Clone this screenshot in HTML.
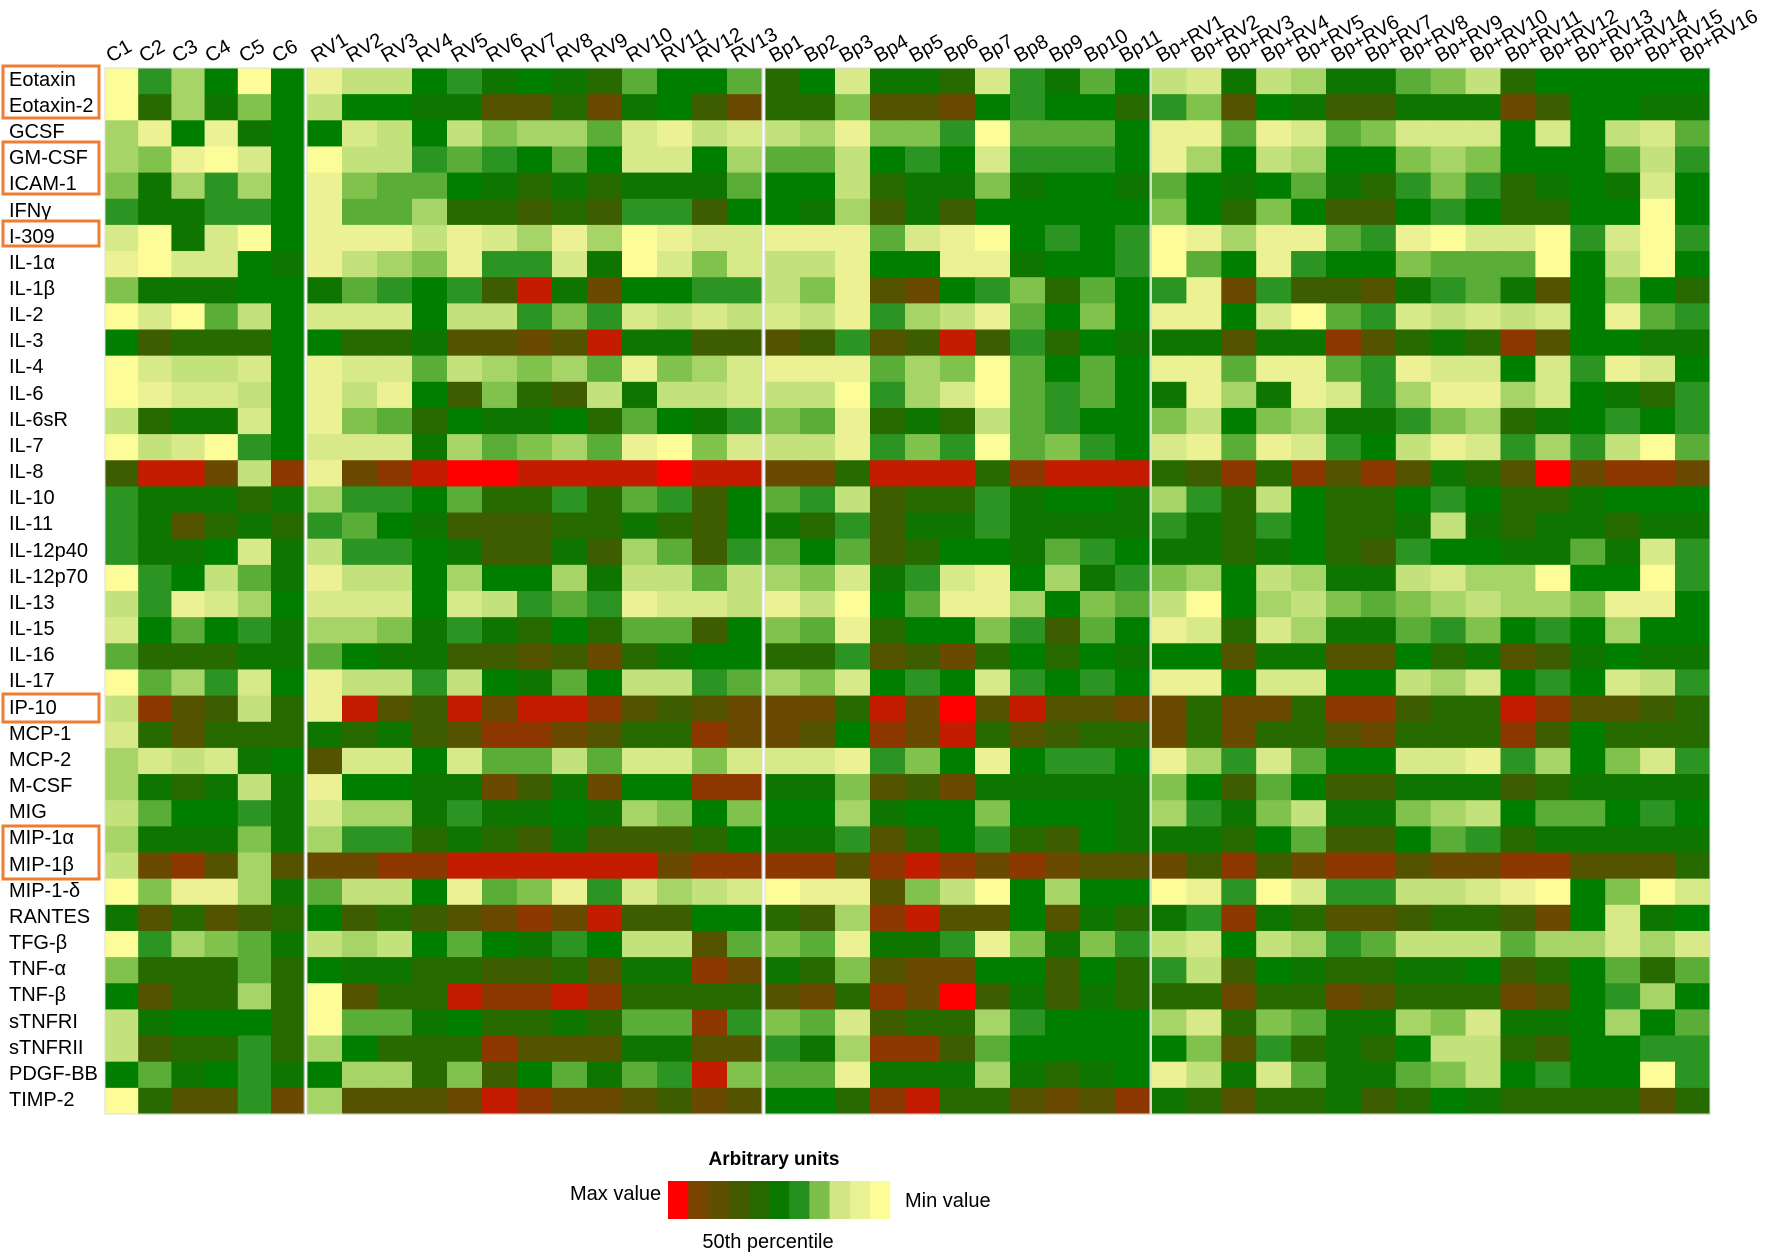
<!DOCTYPE html>
<html><head><meta charset="utf-8"><style>
html,body{margin:0;padding:0;background:#fff;}
svg{display:block;font-family:"Liberation Sans",Arial,sans-serif;}
</style></head><body>
<svg id="s" width="1774" height="1256" viewBox="0 0 1774 1256" xmlns="http://www.w3.org/2000/svg">
<g id="cells"></g>
<g font-size="20" fill="#000" transform="translate(0,-2)">
<text x="9" y="88">Eotaxin</text>
<text x="9" y="114">Eotaxin-2</text>
<text x="9" y="140">GCSF</text>
<text x="9" y="166">GM-CSF</text>
<text x="9" y="192">ICAM-1</text>
<text x="9" y="219">IFNγ</text>
<text x="9" y="245">I-309</text>
<text x="9" y="271">IL-1α</text>
<text x="9" y="297">IL-1β</text>
<text x="9" y="323">IL-2</text>
<text x="9" y="349">IL-3</text>
<text x="9" y="375">IL-4</text>
<text x="9" y="402">IL-6</text>
<text x="9" y="428">IL-6sR</text>
<text x="9" y="454">IL-7</text>
<text x="9" y="480">IL-8</text>
<text x="9" y="506">IL-10</text>
<text x="9" y="532">IL-11</text>
<text x="9" y="559">IL-12p40</text>
<text x="9" y="585">IL-12p70</text>
<text x="9" y="611">IL-13</text>
<text x="9" y="637">IL-15</text>
<text x="9" y="663">IL-16</text>
<text x="9" y="689">IL-17</text>
<text x="9" y="716">IP-10</text>
<text x="9" y="742">MCP-1</text>
<text x="9" y="768">MCP-2</text>
<text x="9" y="794">M-CSF</text>
<text x="9" y="820">MIG</text>
<text x="9" y="846">MIP-1α</text>
<text x="9" y="873">MIP-1β</text>
<text x="9" y="899">MIP-1-δ</text>
<text x="9" y="925">RANTES</text>
<text x="9" y="951">TFG-β</text>
<text x="9" y="977">TNF-α</text>
<text x="9" y="1003">TNF-β</text>
<text x="9" y="1030">sTNFRI</text>
<text x="9" y="1056">sTNFRII</text>
<text x="9" y="1082">PDGF-BB</text>
<text x="9" y="1108">TIMP-2</text>
</g>
<g fill="none" stroke="#ed7d31" stroke-width="3">
<rect x="3" y="66" width="96" height="52"/>
<rect x="3" y="142" width="96" height="52"/>
<rect x="3" y="221" width="96" height="25"/>
<rect x="3" y="694" width="96" height="28"/>
<rect x="3" y="826" width="96" height="53"/>
</g>
<g id="collabels" font-size="20" fill="#000">
<text transform="translate(111,63) rotate(-30)">C1</text>
<text transform="translate(144,63) rotate(-30)">C2</text>
<text transform="translate(177,63) rotate(-30)">C3</text>
<text transform="translate(210,63) rotate(-30)">C4</text>
<text transform="translate(244,63) rotate(-30)">C5</text>
<text transform="translate(277,63) rotate(-30)">C6</text>
<text transform="translate(316,63) rotate(-30)">RV1</text>
<text transform="translate(351,63) rotate(-30)">RV2</text>
<text transform="translate(386,63) rotate(-30)">RV3</text>
<text transform="translate(421,63) rotate(-30)">RV4</text>
<text transform="translate(456,63) rotate(-30)">RV5</text>
<text transform="translate(491,63) rotate(-30)">RV6</text>
<text transform="translate(526,63) rotate(-30)">RV7</text>
<text transform="translate(561,63) rotate(-30)">RV8</text>
<text transform="translate(596,63) rotate(-30)">RV9</text>
<text transform="translate(631,63) rotate(-30)">RV10</text>
<text transform="translate(666,63) rotate(-30)">RV11</text>
<text transform="translate(701,63) rotate(-30)">RV12</text>
<text transform="translate(736,63) rotate(-30)">RV13</text>
<text transform="translate(774,63) rotate(-30)">Bp1</text>
<text transform="translate(809,63) rotate(-30)">Bp2</text>
<text transform="translate(844,63) rotate(-30)">Bp3</text>
<text transform="translate(879,63) rotate(-30)">Bp4</text>
<text transform="translate(914,63) rotate(-30)">Bp5</text>
<text transform="translate(949,63) rotate(-30)">Bp6</text>
<text transform="translate(984,63) rotate(-30)">Bp7</text>
<text transform="translate(1019,63) rotate(-30)">Bp8</text>
<text transform="translate(1054,63) rotate(-30)">Bp9</text>
<text transform="translate(1089,63) rotate(-30)">Bp10</text>
<text transform="translate(1124,63) rotate(-30)">Bp11</text>
<text transform="translate(1161,63) rotate(-30)">Bp+RV1</text>
<text transform="translate(1196,63) rotate(-30)">Bp+RV2</text>
<text transform="translate(1231,63) rotate(-30)">Bp+RV3</text>
<text transform="translate(1266,63) rotate(-30)">Bp+RV4</text>
<text transform="translate(1301,63) rotate(-30)">Bp+RV5</text>
<text transform="translate(1336,63) rotate(-30)">Bp+RV6</text>
<text transform="translate(1370,63) rotate(-30)">Bp+RV7</text>
<text transform="translate(1405,63) rotate(-30)">Bp+RV8</text>
<text transform="translate(1440,63) rotate(-30)">Bp+RV9</text>
<text transform="translate(1475,63) rotate(-30)">Bp+RV10</text>
<text transform="translate(1510,63) rotate(-30)">Bp+RV11</text>
<text transform="translate(1545,63) rotate(-30)">Bp+RV12</text>
<text transform="translate(1580,63) rotate(-30)">Bp+RV13</text>
<text transform="translate(1615,63) rotate(-30)">Bp+RV14</text>
<text transform="translate(1650,63) rotate(-30)">Bp+RV15</text>
<text transform="translate(1685,63) rotate(-30)">Bp+RV16</text>
</g>
<g id="legend">
<text x="774" y="1165" font-size="19" font-weight="bold" text-anchor="middle">Arbitrary units</text>
<text x="570" y="1200" font-size="20">Max value</text>
<text x="905" y="1207" font-size="20">Min value</text>
<text x="768" y="1248" font-size="20" text-anchor="middle">50th percentile</text>
<rect x="668" y="1181" width="20.7" height="38" fill="#ff0000"/>
<rect x="688.2" y="1181" width="20.7" height="38" fill="#784400"/>
<rect x="708.4" y="1181" width="20.7" height="38" fill="#5e5000"/>
<rect x="728.6" y="1181" width="20.7" height="38" fill="#445a00"/>
<rect x="748.8" y="1181" width="20.7" height="38" fill="#266a00"/>
<rect x="769" y="1181" width="20.7" height="38" fill="#087a00"/>
<rect x="789.2" y="1181" width="20.7" height="38" fill="#249020"/>
<rect x="809.4" y="1181" width="20.7" height="38" fill="#7cc04a"/>
<rect x="829.6" y="1181" width="20.7" height="38" fill="#d2e684"/>
<rect x="849.8" y="1181" width="20.7" height="38" fill="#e8f292"/>
<rect x="870" y="1181" width="20.2" height="38" fill="#fcfc98"/>
</g>
</svg>
<script>
var col={r:"#ff0000",R:"#c41c00",B:"#8c3800","1":"#6a4a00","2":"#545400","3":"#3e5c00","4":"#266a00","5":"#0e7600","6":"#007e00","7":"#2c9422","8":"#5aae38","9":"#80c24c",a:"#a6d466",b:"#c4e27c",c:"#d8e98a",d:"#ecf294",e:"#fcfc98"};
var rows=[
"e7a6e6|dbb6756548668|46c554c7586|bc5ba5589b466666",
"e4a596|b665522415631|44922167664|7926533555136655",
"ad6d56|6cb6b9aa8cdbc|bad997e8886|dd8dc89ccc6c6bc8",
"a9dec6|ebb787686cc6a|88b676c7776|da6ba669a96668b7",
"95a7a6|d988654545558|66b45595665|86568547974565c6",
"755776|d88a443437736|65a35366666|96496336764466e6",
"ce5ce6|dddbdcadaedcc|ddd8cde6767|edadd87decce7ce7",
"decc65|dba9d77c5ec9c|bbd66dd5667|e86d7669888e6be6",
"955566|587673R516677|b9d21679486|7d17332578526964",
"ece8b6|ccc6bb797cbcb|cbd7abd8696|dd6ce87cbcbc6d87",
"634446|64452212R5533|23723R37465|55255B2454B26655",
"ecbbc6|dcc8ba9a8d9ac|ddd8a9e8686|dd8dd87dcc6c7dc6",
"edccb6|dbd63943b5bbc|bbe7ace8786|5da5dc7addac6547",
"b455c6|d984655648657|98d454b8766|9b69a5579a456767",
"ebce76|ccc5a89a8de9c|bbd797e8976|cd8dc76bdc7a7be8",
"3RR1bB|d1BRrrRRRRrRR|114RRR4BRRR|43B4B2B2542r1BB1",
"755545|a776844748736|87b34475665|a74b644676445666",
"752454|7865333445436|54735575555|75476445b5455455",
"7556c5|b77653353a837|86834665876|55456437665585c7",
"e76b85|dbb6a66a5bb8b|a9c57cd6a57|9a6ba55bcaae66e7",
"b7dca6|ccc6cb787dccb|dbe68dda698|be6ab989abaa9dd6",
"c68675|aa95754648836|98d46697386|dc4ca55879676a66",
"844455|8655332314566|44723146465|6625522645235655",
"e8a7c6|dbb7b6586bb78|a9c676c7676|dd6cc66bac676cb7",
"bB23b4|dR23R1RRB2321|114R1r2R221|14114BB344RB2234",
"c42444|54532BB1244B1|126B1R42344|1414421444B36444",
"acbc56|2cc6c88b8cc9c|ccd796d6776|da7c866ccd7a69c7",
"a545b5|d6655135166BB|55923155555|9638633555345555",
"b86675|caa575565a969|66a56696665|a759b559ab688676",
"a55595|a774543533346|55724674365|5546833687455555",
"b1B2a2|11BBRRRRRR1BB|BB2BRB1B122|13B31BB211BB2224",
"e9dda5|8bb6d89d7cabc|edd29be6a66|ed7ec77bbcde69ec",
"524234|634321B1R3366|43aBR226254|57B5422344316c56",
"e7a985|bab686576bb28|98d557d9597|bc6ba78bbb8aacac",
"944484|65544334255B1|54921166364|7b36544556346848",
"6244a4|e244RBBRB4444|214B1r35354|44144124441267a6",
"b56664|e8856445488B7|98c344a7666|ac49855a9c556a68",
"b34474|a6444B2225522|75aBB386666|69274546bb436677",
"685675|6aa49368587R9|88d555a5456|db5c85589b6766e7",
"e42271|a2221RB112312|664BR44212B|5424453465444424"
];
var groups=[[105,33.2,6],[307,35.0,13],[765,35.0,11],[1151.5,34.9,16]];
var y0=68,h=26.15,g=document.getElementById("cells");
var out="";
for(var i=0;i<rows.length;i++){
 var parts=rows[i].split("|");
 for(var k=0;k<4;k++){
  var G=groups[k],s=parts[k]||"";
  for(var j=0;j<G[2];j++){
   var c=col[s.charAt(j)]||"#007e00";
   var x=G[0]+j*G[1];
   out+='<rect x="'+x.toFixed(2)+'" y="'+(y0+i*h).toFixed(2)+'" width="'+(G[1]+0.6).toFixed(2)+'" height="'+(h+0.6).toFixed(2)+'" fill="'+c+'"/>';
  }
 }
}
var bx=[[105,304.2],[307,762],[765,1150],[1151.5,1710]];
for(var k=0;k<4;k++){out+='<rect x="'+bx[k][0]+'" y="'+y0+'" width="'+(bx[k][1]-bx[k][0])+'" height="'+(40*h)+'" fill="none" stroke="#dcdcdc" stroke-width="1"/>';}
g.innerHTML=out;
</script>
</body></html>
